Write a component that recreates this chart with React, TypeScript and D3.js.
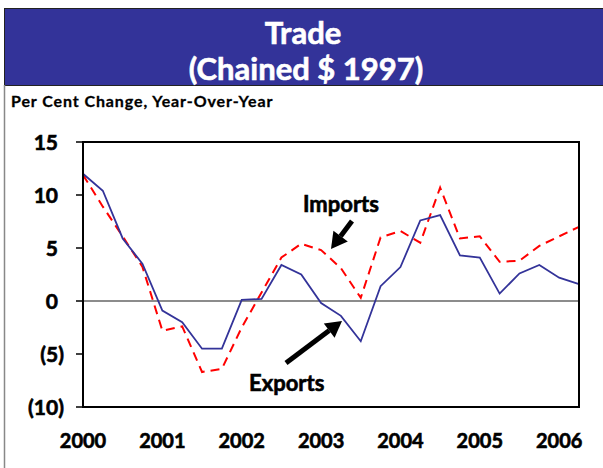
import React from "react";
import * as d3 from "d3";

const years = ["2000", "2001", "2002", "2003", "2004", "2005", "2006"];
const yTicks = [15, 10, 5, 0, -5, -10];
// quarterly, 2000Q1 .. 2006Q2
const exportsData = [12.0, 10.4, 5.9, 3.5, -0.9, -2.0, -4.5, -4.5, 0.1, 0.2, 3.4, 2.5, -0.2, -1.4, -3.8, 1.4, 3.2, 7.6, 8.1, 4.3, 4.1, 0.7, 2.6, 3.4, 2.2, 1.6];
const importsData = [11.9, 8.9, 6.1, 3.2, -2.8, -2.4, -6.7, -6.4, -2.5, 0.8, 4.1, 5.4, 4.8, 3.1, 0.3, 6.0, 6.6, 5.5, 10.7, 5.9, 6.1, 3.7, 3.8, 5.2, 6.1, 7.0];

const W = 603;
const H = 468;
const FONT = "Lato, 'Open Sans', sans-serif";

export default function App() {
  const left = 83, right = 579, top = 142, bottom = 407;
  const x = d3.scaleLinear().domain([0, exportsData.length - 1]).range([left, right]);
  const y = d3.scaleLinear().domain([-10, 15]).range([bottom, top]);
  const line = d3.line<number>().x((_, i) => x(i)).y((d) => y(d));
  const fmt = (v: number) => (v < 0 ? `(${Math.abs(v)})` : `${v}`);

  const arrow = (x1: number, y1: number, x2: number, y2: number) => {
    const ang = Math.atan2(y2 - y1, x2 - x1);
    const hl = 16, hw = 9;
    const bx = x2 - hl * Math.cos(ang), by = y2 - hl * Math.sin(ang);
    const px = -Math.sin(ang), py = Math.cos(ang);
    return (
      <g>
        <line x1={x1} y1={y1} x2={bx} y2={by} stroke="#000" strokeWidth={5} />
        <polygon points={`${x2},${y2} ${bx + px * hw},${by + py * hw} ${bx - px * hw},${by - py * hw}`} fill="#000" />
      </g>
    );
  };

  const heavy = { stroke: "#000", strokeWidth: 0.6 } as const;

  return (
    <svg width={W} height={H} style={{ position: "absolute", left: 0, top: 0, background: "#fff" }} fontFamily={FONT}>
      <rect x={0} y={0} width={W} height={H} fill="#fff" />
      <rect x={4.5} y={8.5} width={W} height={77} fill="#333399" stroke="#222" strokeWidth={1} />
      <line x1={4.5} y1={85} x2={4.5} y2={H} stroke="#888" strokeWidth={1.5} />
      <text x={303} y={44} textAnchor="middle" fill="#fff" stroke="#fff" strokeWidth={0.6} fontSize={31} fontWeight={700}>Trade</text>
      <text x={306} y={80} textAnchor="middle" fill="#fff" stroke="#fff" strokeWidth={0.6} fontSize={31} fontWeight={700}>(Chained $ 1997)</text>
      <text x={11} y={107} fill="#000" {...heavy} strokeWidth={0.3} fontSize={16} letterSpacing={0.9} fontWeight={700}>Per Cent Change, Year-Over-Year</text>

      {yTicks.map((t) => (
        <g key={t}>
          <line x1={left - 7} x2={left} y1={y(t)} y2={y(t)} stroke="#000" strokeWidth={1.5} />
          <text x={t < 0 ? 64 : 58} y={y(t)} dy="0.36em" textAnchor="end" fontSize={21} fontWeight={700} {...heavy}>{fmt(t)}</text>
        </g>
      ))}
      {years.map((yr, i) => (
        <text key={yr} x={x(i * 4)} y={448} textAnchor="middle" fontSize={20} fontWeight={700} {...heavy}>{yr}</text>
      ))}

      <line x1={left} x2={right} y1={y(0)} y2={y(0)} stroke="#666" strokeWidth={1.5} />
      <path d={line(importsData) || ""} fill="none" stroke="#ff0000" strokeWidth={2} strokeDasharray="9,6" />
      <path d={line(exportsData) || ""} fill="none" stroke="#333399" strokeWidth={1.8} />
      <rect x={left} y={top} width={right - left} height={bottom - top} fill="none" stroke="#000" strokeWidth={2} />

      <text x={303} y={212} fontSize={22} fontWeight={700} {...heavy}>Imports</text>
      {arrow(352, 221, 331, 249)}
      <text x={249} y={391} fontSize={22} fontWeight={700} {...heavy}>Exports</text>
      {arrow(286, 363, 342, 321)}
    </svg>
  );
}
